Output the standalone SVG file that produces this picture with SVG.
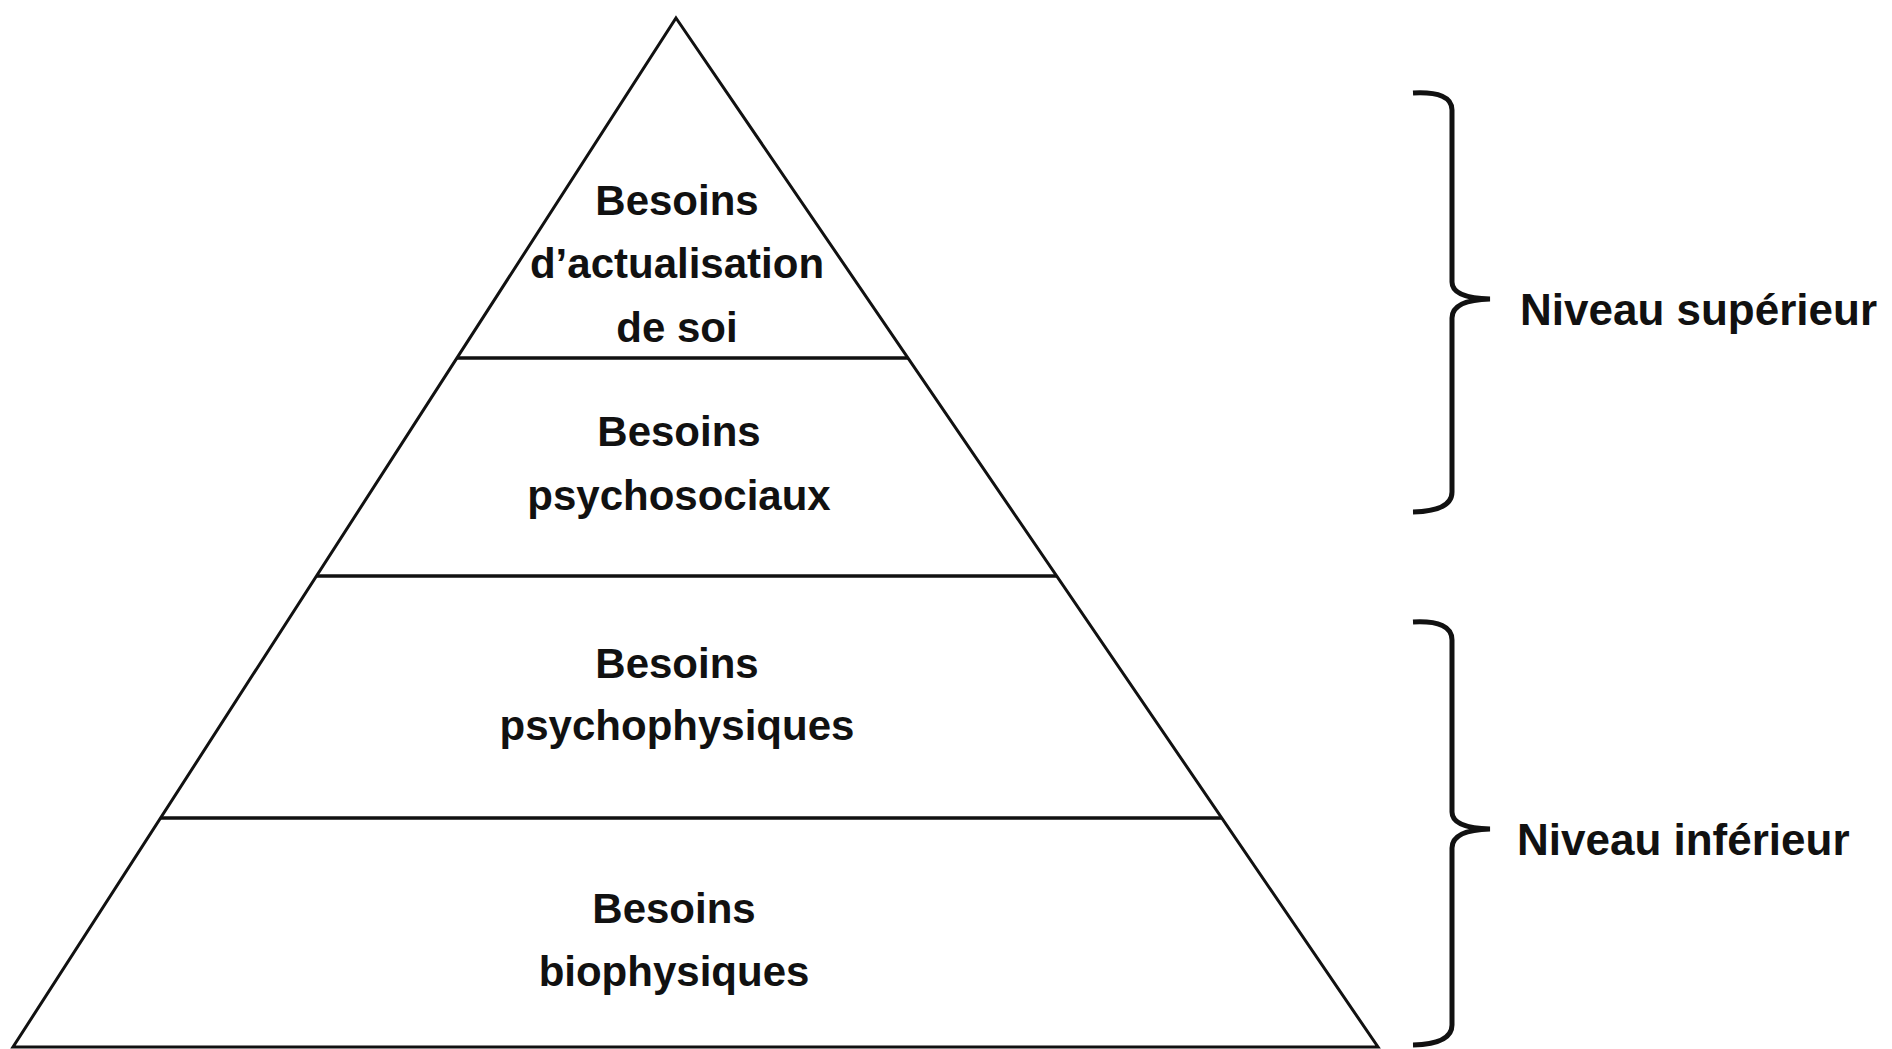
<svg xmlns="http://www.w3.org/2000/svg" width="1892" height="1049" viewBox="0 0 1892 1049">
<style>
.edge{fill:none;stroke:#111;stroke-width:3;stroke-linejoin:miter}
.tier{fill:none;stroke:#111;stroke-width:3.5}
.brace{fill:none;stroke:#111;stroke-width:5;stroke-linejoin:miter}
.lbl{font-family:"Liberation Sans",Arial,sans-serif;font-weight:bold;font-size:42px;fill:#111;text-anchor:middle}
.side{font-family:"Liberation Sans",Arial,sans-serif;font-weight:bold;font-size:44px;fill:#111}
</style>
<rect width="1892" height="1049" fill="#fff"/>
<g id="connectors">
<polygon class="edge" points="676,18 1378,1047 13,1047"/>
<line class="tier" x1="457" y1="358" x2="908" y2="358"/>
<line class="tier" x1="316" y1="576" x2="1057" y2="576"/>
<line class="tier" x1="160" y1="818" x2="1222" y2="818"/>
</g>
<g id="tier-actualisation">
<text class="lbl" x="677" y="215">Besoins</text>
<text class="lbl" x="677" y="278">d’actualisation</text>
<text class="lbl" x="677" y="342">de soi</text>
</g>
<g id="tier-psychosociaux">
<text class="lbl" x="679" y="446">Besoins</text>
<text class="lbl" x="679" y="510">psychosociaux</text>
</g>
<g id="tier-psychophysiques">
<text class="lbl" x="677" y="678">Besoins</text>
<text class="lbl" x="677" y="740">psychophysiques</text>
</g>
<g id="tier-biophysiques">
<text class="lbl" x="674" y="923">Besoins</text>
<text class="lbl" x="674" y="986">biophysiques</text>
</g>
<g id="niveau-superieur">
<path class="brace" d="M1413,93 Q1452,91 1452,110 L1452,282 Q1452,298 1490,299 Q1452,300 1452,318 L1452,492 Q1452,511 1413,512"/>
<text class="side" x="1520" y="325">Niveau supérieur</text>
</g>
<g id="niveau-inferieur">
<path class="brace" d="M1413,622 Q1452,620 1452,640 L1452,812 Q1452,828 1490,829 Q1452,830 1452,848 L1452,1025 Q1452,1044 1413,1045"/>
<text class="side" x="1517" y="855">Niveau inférieur</text>
</g>
</svg>
